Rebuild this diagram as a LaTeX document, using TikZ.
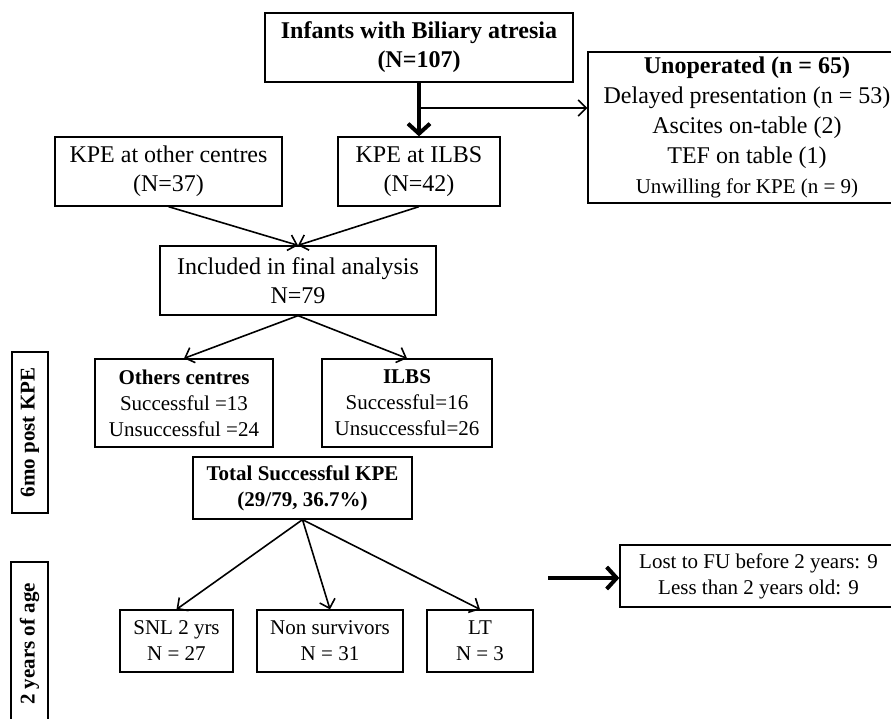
\documentclass[tikz,border=0pt]{standalone}
\usepackage{fontspec}
\setmainfont{Liberation Serif}
\usepackage{tikz}
\usetikzlibrary{calc}
\usetikzlibrary{arrows.meta}
\tikzset{box/.style={rectangle, draw, line width=1.3pt, align=center, inner sep=0pt}}
\tikzset{bigtxt/.style={font=\fontsize{24}{29}\selectfont}}
\tikzset{smalltxt/.style={font=\fontsize{21}{26}\selectfont}}
\tikzset{sidetxt/.style={font=\fontsize{21}{26}\selectfont\bfseries}}
\tikzset{flow/.style={line width=1.6pt, -{Straight Barb[length=8pt,width=16pt,line width=1.6pt]}}}
\tikzset{heavy/.style={line width=4pt, -{Straight Barb[length=10pt,width=22pt,line width=4pt]}}}

\begin{document}
\begin{tikzpicture}[x=1pt,y=-1pt]
    \useasboundingbox (0,0) rectangle (891,718);
    \clip (0,0) rectangle (891,718);
    % large boxes
    \foreach \x/\y/\w/\h/\lab/\tx in {
      419/47.5/308/69/top/{\textbf{Infants with Biliary atresia}\\\textbf{(N=107)}},
      168.5/171.5/227/69/otherKPE/{KPE at other centres\\(N=37)},
      419/171.5/162/69/ilbsKPE/{KPE at ILBS\\(N=42)},
      298/280.5/276/69/incl/{Included in final analysis\\N=79}%
    } {
      \node[box, bigtxt, minimum width=\w pt, minimum height=\h pt] (\lab) at (\x, \y) {\tx};
    }
    \node[box, font=\fontsize{24}{30}\selectfont, minimum width=318pt, minimum height=151pt] (unop) at (747, 127.5)
      {\textbf{Unoperated (n = 65)}\\Delayed presentation (n = 53)\\Ascites on-table (2)\\TEF on table (1)\\{\fontsize{21}{26}\selectfont Unwilling for KPE (n = 9)}};
    % small boxes
    \foreach \x/\y/\w/\h/\lab/\tx in {
      184/403/178/88/others/{\textbf{Others centres}\\Successful =13\\Unsuccessful =24},
      407/403/170/88/ilbs/{\textbf{ILBS}\\Successful=16\\Unsuccessful=26},
      302.5/488/219/62/total/{\textbf{Total Successful KPE}\\\textbf{(29/79, 36.7\%)}},
      176.5/641/113/62/snl/{SNL 2 yrs\\N = 27},
      330/641/146/62/nonsurv/{Non survivors\\N = 31},
      480/641/106/62/lt/{LT\\N = 3},
      758.5/576/277/62/lost/{Lost to FU before 2 years: 9\\Less than 2 years old: 9}%
    } {
      \node[box, smalltxt, minimum width=\w pt, minimum height=\h pt] (\lab) at (\x, \y) {\tx};
    }
    % period labels
    \node[box, sidetxt, rotate=90, minimum width=161pt, minimum height=36pt] (sixmo) at (30, 432.5) {6mo post KPE};
    \node[box, sidetxt, rotate=90, minimum width=164pt, minimum height=37pt] (twoyr) at (29.5, 644) {2 years of age};

    \coordinate (split) at (419, 108);
    \coordinate (lostfrom) at (548, 578);
    \draw[heavy] (top) -- (ilbsKPE);
    \draw[flow] (split) -- (split -| unop.west);
    \draw[flow] (otherKPE.south) -- (incl.north);
    \draw[flow] (ilbsKPE.south) -- (incl.north);
    \draw[flow] (incl.south) -- (others.north);
    \draw[flow] (incl.south) -- (ilbs.north);
    \foreach \lab in {snl, nonsurv, lt} {
      \draw[flow] (total.south) -- (\lab.north);
    }
    \draw[heavy, line width=3.5pt] (lostfrom) -- (lostfrom -| lost.west);
  \end{tikzpicture}
\end{document}
